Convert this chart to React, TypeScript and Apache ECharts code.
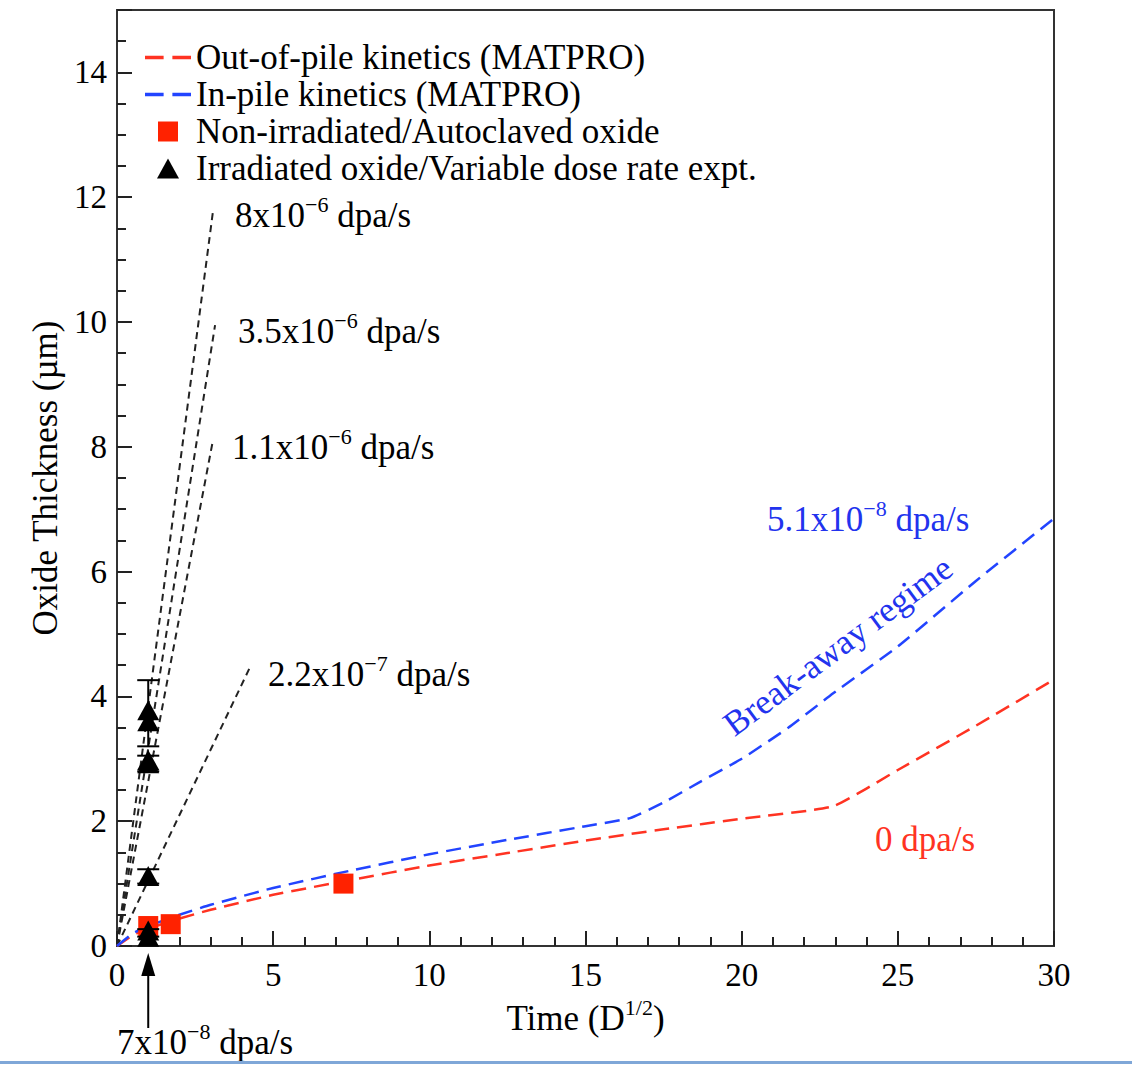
import React, { useEffect, useRef } from 'react';
import * as echarts from 'echarts';

// ---------- data ----------
const outOfPileKinetics: [number, number][] = [
  [0, 0], [0.5, 0.17], [1, 0.28], [2, 0.44], [3, 0.58], [5, 0.82], [7.5, 1.06],
  [10, 1.29], [12.5, 1.49], [15, 1.69], [17.5, 1.87], [20, 2.04], [22.93, 2.24],
  [25, 2.82], [27.5, 3.53], [30, 4.27],
];
const inPileKinetics: [number, number][] = [
  [0, 0], [0.5, 0.2], [1, 0.32], [2, 0.5], [3, 0.66], [5, 0.93], [7.5, 1.21],
  [10, 1.47], [12.5, 1.7], [15, 1.92], [16.43, 2.05], [17.5, 2.3], [18.67, 2.63],
  [20, 3.0], [21.5, 3.5], [22.93, 4.05], [25, 4.8], [27.5, 5.85], [30, 6.85],
];
const nonIrradiated: [number, number][] = [[1.0, 0.32], [1.72, 0.35], [7.25, 1.0]];
const irradiated: [number, number][] = [
  [1.0, 3.78], [1.0, 3.6], [1.0, 2.98], [1.0, 2.93], [1.0, 1.12], [1.0, 0.25], [1.0, 0.15],
];
// [x, low, high]
const errorBars: [number, number, number][] = [
  [1.0, 3.2, 4.26], [1.0, 2.8, 3.05], [1.0, 1.0, 1.23], [1.0, 0.15, 0.27],
];
const doseRateFits: { name: string; data: [number, number][] }[] = [
  { name: '8x10-6', data: [[0, 0], [3.08, 11.8]] },
  { name: '3.5x10-6', data: [[0, 0], [3.14, 9.95]] },
  { name: '1.1x10-6', data: [[0, 0], [3.07, 8.1]] },
  { name: '2.2x10-7', data: [[0, 0], [4.26, 4.47]] },
];
const xTicks = { min: 0, max: 30, major: 5, minorSplit: 5 };
const yTicks = { min: 0, max: 15, major: 2, minor: 0.5 };

const legendNames = [
  'Out-of-pile kinetics (MATPRO)',
  'In-pile kinetics (MATPRO)',
  'Non-irradiated/Autoclaved oxide',
  'Irradiated oxide/Variable dose rate expt.',
];

const FONT = '"Liberation Serif", "Times New Roman", serif';
const RED = '#ff3322';
const BLUE = '#2244ff';
const BLUE_TEXT = '#2233ee';

const richFor = (color: string) => ({
  n: { fontSize: 35, lineHeight: 40, verticalAlign: 'bottom', color, fontFamily: FONT },
  s: { fontSize: 22, lineHeight: 22, verticalAlign: 'top', color, fontFamily: FONT },
});

function annot(x: number, y: number, text: string, color: string) {
  return {
    type: 'text',
    x,
    y,
    z: 100,
    style: {
      text,
      rich: richFor(color),
      align: 'left',
      verticalAlign: 'middle',
      fill: color,
      font: `35px ${FONT}`,
    },
  };
}

const DASH_ICON = 'path://M0,0h17v3h-17zM25,0h17v3h-17z';
const SQUARE_ICON = 'path://M0,0h20v20h-20z';
const TRIANGLE_ICON = 'path://M11,0L22,20L0,20z';

export default function App() {
  const ref = useRef<HTMLDivElement>(null);
  useEffect(() => {
    document.body.style.margin = '0';
    if (!ref.current) return;
    const chart = echarts.init(ref.current, undefined, { renderer: 'svg' });

    const tickStyle = { color: '#222', width: 2 };
    const option: any = {
      animation: false,
      backgroundColor: '#fff',
      grid: {
        left: 117, right: 78, top: 10, bottom: 119,
        show: true, borderColor: '#333', borderWidth: 2,
      },
      legend: {
        orient: 'vertical',
        left: 145,
        top: 40,
        padding: 0,
        itemWidth: 46,
        itemHeight: 20,
        itemGap: 2,
        selectedMode: false,
        data: [
          { name: legendNames[0], icon: DASH_ICON },
          { name: legendNames[1], icon: DASH_ICON },
          { name: legendNames[2], icon: SQUARE_ICON },
          { name: legendNames[3], icon: TRIANGLE_ICON },
        ],
        textStyle: { fontSize: 35, fontFamily: FONT, color: '#000', lineHeight: 35 },
      },
      xAxis: {
        type: 'value',
        min: xTicks.min,
        max: xTicks.max,
        interval: xTicks.major,
        axisLine: { show: true, onZero: false, lineStyle: { color: '#333', width: 2 } },
        axisTick: { show: true, inside: true, length: 15, lineStyle: tickStyle },
        minorTick: { show: true, splitNumber: xTicks.minorSplit, length: 9, lineStyle: tickStyle },
        splitLine: { show: false },
        axisLabel: { fontSize: 33, fontFamily: FONT, color: '#000', margin: 12 },
        name: '{n|Time (D}{s|1/2}{n|)}',
        nameLocation: 'middle',
        nameGap: 50,
        nameTextStyle: { rich: richFor('#000') },
      },
      yAxis: [
        {
          type: 'value',
          min: yTicks.min,
          max: yTicks.max,
          interval: yTicks.major,
          axisLine: { show: true, onZero: false, lineStyle: { color: '#333', width: 2 } },
          axisTick: { show: true, inside: true, length: 15, lineStyle: tickStyle },
          splitLine: { show: false },
          axisLabel: {
            fontSize: 33, fontFamily: FONT, color: '#000', margin: 10,
            formatter: (v: number) => (v % 2 === 0 ? String(v) : ''),
          },
          name: 'Oxide Thickness (µm)',
          nameLocation: 'middle',
          nameGap: 52,
          nameTextStyle: { fontSize: 35, fontFamily: FONT, color: '#000' },
        },
        {
          type: 'value',
          min: yTicks.min,
          max: yTicks.max,
          interval: yTicks.minor,
          position: 'left',
          axisLine: { show: false },
          axisTick: { show: true, inside: true, length: 9, lineStyle: tickStyle },
          splitLine: { show: false },
          axisLabel: { show: false },
        },
      ],
      series: [
        ...doseRateFits.map((d) => ({
          name: d.name,
          type: 'line',
          data: d.data,
          symbol: 'none',
          lineStyle: { color: '#222', width: 2, type: [7, 5] },
          z: 2,
        })),
        {
          name: legendNames[0],
          type: 'line',
          data: outOfPileKinetics,
          symbol: 'none',
          smooth: 0.15,
          itemStyle: { color: RED },
          lineStyle: { color: RED, width: 2.5, type: [15, 8] },
          z: 3,
        },
        {
          name: legendNames[1],
          type: 'line',
          data: inPileKinetics,
          symbol: 'none',
          smooth: 0.15,
          itemStyle: { color: BLUE },
          lineStyle: { color: BLUE, width: 2.5, type: [15, 8] },
          z: 3,
        },
        {
          name: legendNames[2],
          type: 'scatter',
          data: nonIrradiated,
          symbol: 'rect',
          symbolSize: 20,
          itemStyle: { color: '#ff2200', opacity: 1 },
          z: 4,
        },
        {
          name: 'errorbars',
          type: 'custom',
          data: errorBars,
          encode: { x: 0, y: [1, 2] },
          z: 5,
          renderItem: (_params: any, api: any) => {
            const x = api.value(0);
            const lo = api.coord([x, api.value(1)]);
            const hi = api.coord([x, api.value(2)]);
            const hw = 11;
            const st = { stroke: '#000', lineWidth: 2 };
            return {
              type: 'group',
              children: [
                { type: 'line', shape: { x1: lo[0], y1: lo[1], x2: hi[0], y2: hi[1] }, style: st },
                { type: 'line', shape: { x1: lo[0] - hw, y1: lo[1], x2: lo[0] + hw, y2: lo[1] }, style: st },
                { type: 'line', shape: { x1: hi[0] - hw, y1: hi[1], x2: hi[0] + hw, y2: hi[1] }, style: st },
              ],
            };
          },
        },
        {
          name: legendNames[3],
          type: 'scatter',
          data: irradiated,
          symbol: 'triangle',
          symbolSize: [22, 20],
          itemStyle: { color: '#000', opacity: 1 },
          z: 6,
        },
      ],
    };
    chart.setOption(option);

    const [ax] = chart.convertToPixel({ xAxisIndex: 0, yAxisIndex: 0 }, [1, 0]) as number[];
    chart.setOption({
      graphic: [
        annot(235, 213, '{n|8x10}{s|−6}{n| dpa/s}', '#000'),
        annot(238, 329, '{n|3.5x10}{s|−6}{n| dpa/s}', '#000'),
        annot(232, 445, '{n|1.1x10}{s|−6}{n| dpa/s}', '#000'),
        annot(268, 672, '{n|2.2x10}{s|−7}{n| dpa/s}', '#000'),
        annot(767, 517, '{n|5.1x10}{s|−8}{n| dpa/s}', BLUE_TEXT),
        annot(875, 837, '{n|0 dpa/s}', RED),
        annot(117, 1040, '{n|7x10}{s|−8}{n| dpa/s}', '#000'),
        {
          type: 'text',
          x: 838,
          y: 646,
          rotation: 0.64,
          z: 100,
          style: {
            text: 'Break-away regime',
            fill: BLUE_TEXT,
            font: `35px ${FONT}`,
            align: 'center',
            verticalAlign: 'middle',
          },
        },
        {
          type: 'line',
          z: 100,
          shape: { x1: ax, y1: 1028, x2: ax, y2: 970 },
          style: { stroke: '#000', lineWidth: 2 },
        },
        {
          type: 'polygon',
          z: 100,
          shape: { points: [[ax, 953], [ax - 7, 976], [ax + 7, 976]] },
          style: { fill: '#000' },
        },
        {
          type: 'rect',
          z: 100,
          shape: { x: 0, y: 1061, width: 1132, height: 3 },
          style: { fill: '#7fa7d8' },
        },
      ],
    });

    return () => chart.dispose();
  }, []);
  return <div ref={ref} style={{ width: 1132, height: 1065 }} />;
}
